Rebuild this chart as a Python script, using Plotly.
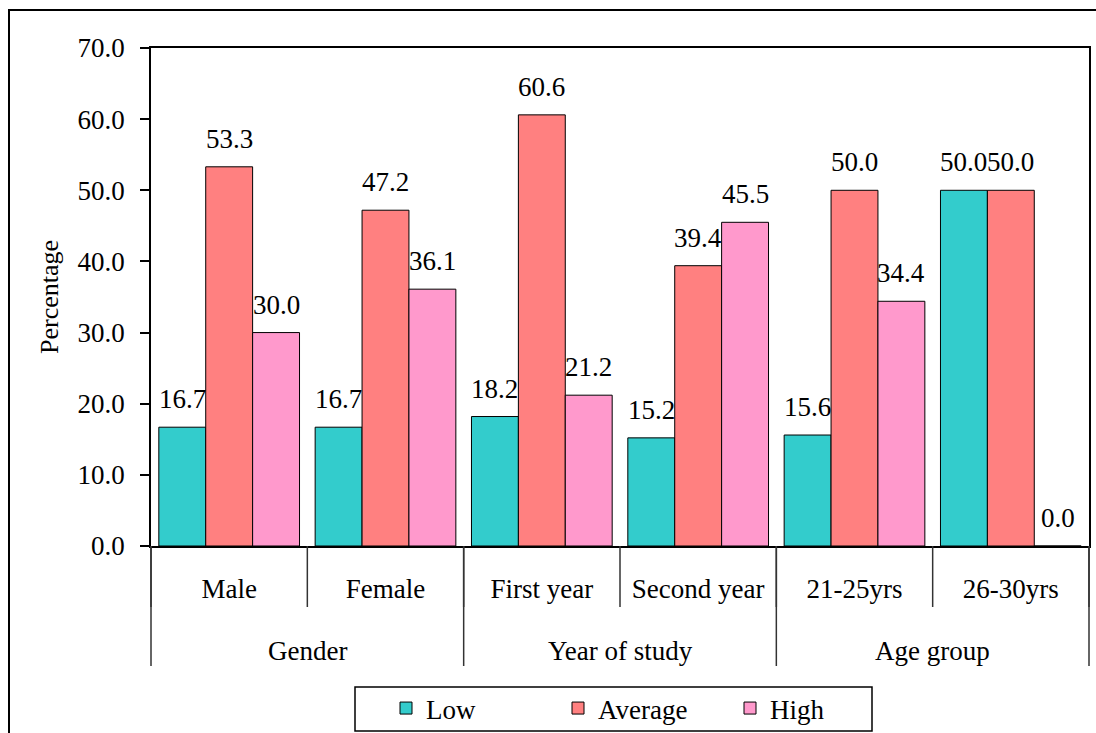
import plotly.graph_objects as go

# Knowledge level by respondent characteristic (percent)
groups = ["Gender", "Year of study", "Age group"]
group_sizes = [2, 2, 2]
categories = ["Male", "Female", "First year", "Second year", "21-25yrs", "26-30yrs"]
low = [16.7, 16.7, 18.2, 15.2, 15.6, 50.0]
average = [53.3, 47.2, 60.6, 39.4, 50.0, 50.0]
high = [30.0, 36.1, 21.2, 45.5, 34.4, 0.0]
y_ticks = [0, 10, 20, 30, 40, 50, 60, 70]

series = [
    ("Low", low, "#33CCCC"),
    ("Average", average, "#FF8080"),
    ("High", high, "#FF99CC"),
]

FONT = "Liberation Serif"
FS = 27
BAR_W = 0.3
offsets = [-0.45, -0.15, 0.15]

# page geometry of the plot area
W, H = 1096, 733
ML, MR, MT, MB = 151, 7, 48, 187
plot_h = H - MT - MB


def py(px):
    """page y pixel -> paper y"""
    return (H - MB - px) / plot_h


def pxx(px):
    """page x pixel -> paper x"""
    return (px - ML) / (W - ML - MR)


fig = go.Figure()
annotations = []
for (name, vals, color), off in zip(series, offsets):
    fig.add_trace(go.Bar(
        name=name,
        x=categories,
        y=vals,
        width=BAR_W,
        offset=off,
        marker=dict(color=color, line=dict(color="black", width=1)),
    ))
    for j, v in enumerate(vals):
        annotations.append(dict(
            x=j + off + BAR_W / 2, y=v, xref="x", yref="y",
            text=f"{v:.1f}", showarrow=False,
            yanchor="bottom", yshift=11,
            font=dict(family=FONT, size=FS, color="black"),
        ))

# group labels under the category labels
start = 0
for g, n in zip(groups, group_sizes):
    annotations.append(dict(
        x=start + (n - 1) / 2, y=py(651), xref="x", yref="paper",
        text=g, showarrow=False, yanchor="middle",
        font=dict(family=FONT, size=FS, color="black"),
    ))
    start += n

# y axis title
annotations.append(dict(
    x=pxx(49), y=0.5, xref="paper", yref="paper",
    text="Percentage", showarrow=False, textangle=-90,
    xanchor="center", yanchor="middle",
    font=dict(family=FONT, size=FS - 1, color="black"),
))

shapes = []
n_cat = len(categories)
# separators between categories
for k in range(n_cat + 1):
    shapes.append(dict(type="line", xref="x domain", yref="paper",
                       x0=k / n_cat, x1=k / n_cat, y0=0, y1=py(607),
                       line=dict(color="#333333", width=1.5)))
# longer separators between groups
b = 0
for n in [0] + group_sizes:
    b += n
    shapes.append(dict(type="line", xref="x domain", yref="paper",
                       x0=b / n_cat, x1=b / n_cat, y0=0, y1=py(666),
                       line=dict(color="#333333", width=1.5)))
# legend frame
shapes.append(dict(type="rect", xref="paper", yref="paper",
                   x0=pxx(355), x1=pxx(872), y0=py(687), y1=py(731),
                   line=dict(color="black", width=1.5), fillcolor="rgba(0,0,0,0)"))
# outer frame of the chart
shapes.append(dict(type="rect", xref="paper", yref="paper",
                   x0=pxx(9), x1=pxx(1110), y0=py(10), y1=py(760),
                   line=dict(color="black", width=2), fillcolor="rgba(0,0,0,0)"))

fig.update_layout(
    width=W, height=H,
    margin=dict(l=ML, r=MR, t=MT, b=MB, autoexpand=False),
    paper_bgcolor="white", plot_bgcolor="white",
    barmode="group",
    font=dict(family=FONT, size=FS, color="black"),
    showlegend=True,
    legend=dict(
        orientation="h", x=pxx(386), xanchor="left", y=py(684), yanchor="top",
        borderwidth=0, bgcolor="rgba(0,0,0,0)",
        font=dict(family=FONT, size=FS, color="black"),
        entrywidth=127, entrywidthmode="pixels",
    ),
    xaxis=dict(
        type="category", range=[-0.5, n_cat - 0.5],
        showline=True, linecolor="black", linewidth=1.5, mirror=True,
        ticks="", showgrid=False, ticklabelstandoff=18,
        tickfont=dict(family=FONT, size=FS, color="black"),
    ),
    yaxis=dict(
        range=[0, 70], tickvals=y_ticks, tickformat=".1f",
        showline=True, linecolor="black", linewidth=1.5, mirror=True,
        ticks="outside", ticklen=9, tickwidth=1.5, tickcolor="black",
        showgrid=False, zeroline=False, ticklabelstandoff=10,
        tickfont=dict(family=FONT, size=FS, color="black"),
    ),
    annotations=annotations,
    shapes=shapes,
)

fig.write_html("out.html")
